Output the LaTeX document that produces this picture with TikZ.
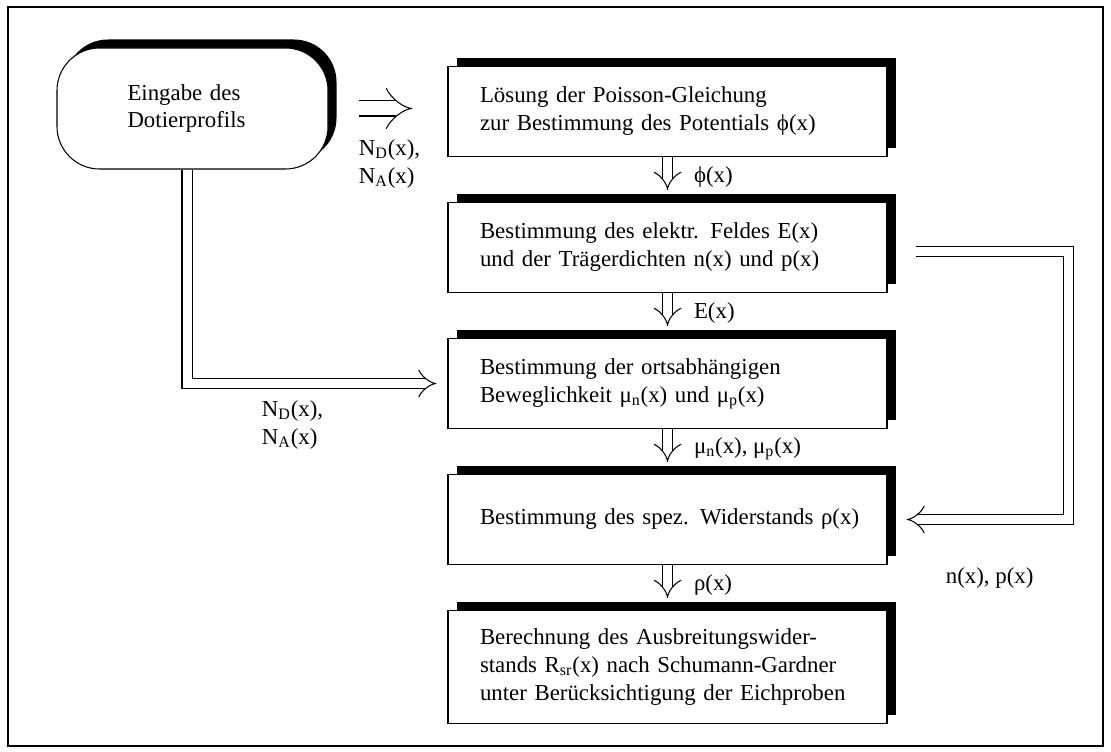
\documentclass[tikz,border=0pt]{standalone}
\usepackage{fontspec}
\setmainfont{Liberation Serif}
\usetikzlibrary{positioning,shadows,arrows.meta}

\begin{document}
\begin{tikzpicture}[x=0.2mm,y=-0.2mm,node distance=27.2mm,on grid,
		txt/.style={font=\fontsize{13}{15.9}\selectfont},
		stage/.style={txt, rectangle, draw, line width=0.6pt, fill=white, text width=75mm, inner xsep=6.4mm, align=left, minimum height=18mm,
			drop shadow={shadow xshift=1.7mm, shadow yshift=1.7mm, fill=black, opacity=1}},
		input/.style={txt, rectangle, rounded corners=8.5mm, draw, line width=0.6pt, fill=white, text width=26mm, minimum width=54.2mm, minimum height=24.2mm, align=left,
			drop shadow={shadow xshift=1.7mm, shadow yshift=1.7mm, fill=black, opacity=1}},
		flow/.style={double, double distance=1.8mm, line width=0.6pt, -{Implies[length=4.8mm,width=4.4mm]}},
		bigflow/.style={flow, double distance=2.8mm, -{Implies[length=6.2mm,width=6mm]}},
		lbl/.style={txt, inner sep=0pt, align=left}
	]
	\useasboundingbox (0,0) rectangle (1111,752);
	\draw[line width=0.6pt] (8,7) rectangle (1103,746);
	
	\node[stage] (b_1) at (667.5,111.5) {Lösung der Poisson-Gleichung\\zur Bestimmung des Potentials ϕ(x)};
	\node[stage] (b_2) [below=of b_1] {Bestimmung des elektr. Feldes E(x)\\und der Trägerdichten n(x) und p(x)};
	\node[stage] (b_3) [below=of b_2] {Bestimmung der ortsabhängigen\\Beweglichkeit μ\textsubscript{n}(x) und μ\textsubscript{p}(x)};
	\node[stage] (b_4) [below=of b_3] {\mbox{Bestimmung des spez. Widerstands ρ(x)}};
	\node[stage, minimum height=22.6mm] (b_5) [below=of b_4, yshift=-2.3mm] {Berechnung des Ausbreitungswider-\\stands R\textsubscript{sr}(x) nach Schumann-Gardner\\unter Berücksichtigung der Eichproben};
	
	\node[input] (ein) at (192.5,108.5) {Eingabe des\\Dotierprofils};
	
	\node[lbl] (nd_1) [below right=6.2mm and 6mm of ein.east] {N\textsubscript{D}(x),\\N\textsubscript{A}(x)};
	\node[lbl] (nd_2) [below left=3.4mm and 24.8mm of b_3.west] {N\textsubscript{D}(x),\\N\textsubscript{A}(x)};
	\node[lbl] (np) [below right=9.6mm and 11.6mm of b_4.east] {n(x), p(x)};
	
	\draw[bigflow, shorten <=6mm, shorten >=7mm] (ein.east) -- (ein.east -| b_1.west);
	\draw[flow, shorten >=2.2mm] ([xshift=-1.1mm]ein.south) |- (b_3.west);
	\draw[flow] ([xshift=5.6mm,yshift=-0.8mm]b_2.east) -| ([xshift=36.2mm]b_4.east) -- ([xshift=3.8mm]b_4.east);
	
	\draw[flow] (b_1.south) -- ([yshift=2.4mm]b_2.north) node[lbl, pos=0.6, anchor=west, xshift=5.2mm] (l_phi) {ϕ(x)};
	\draw[flow] (b_2.south) -- ([yshift=2.4mm]b_3.north) node[lbl, pos=0.6, anchor=west, xshift=5.2mm] (l_e) {E(x)};
	\draw[flow] (b_3.south) -- ([yshift=2.4mm]b_4.north) node[lbl, pos=0.6, anchor=west, xshift=5.2mm] (l_mu) {μ\textsubscript{n}(x), μ\textsubscript{p}(x)};
	\draw[flow] (b_4.south) -- ([yshift=2.4mm]b_5.north) node[lbl, pos=0.6, anchor=west, xshift=5.2mm] (l_rho) {ρ(x)};
\end{tikzpicture}
\end{document}
